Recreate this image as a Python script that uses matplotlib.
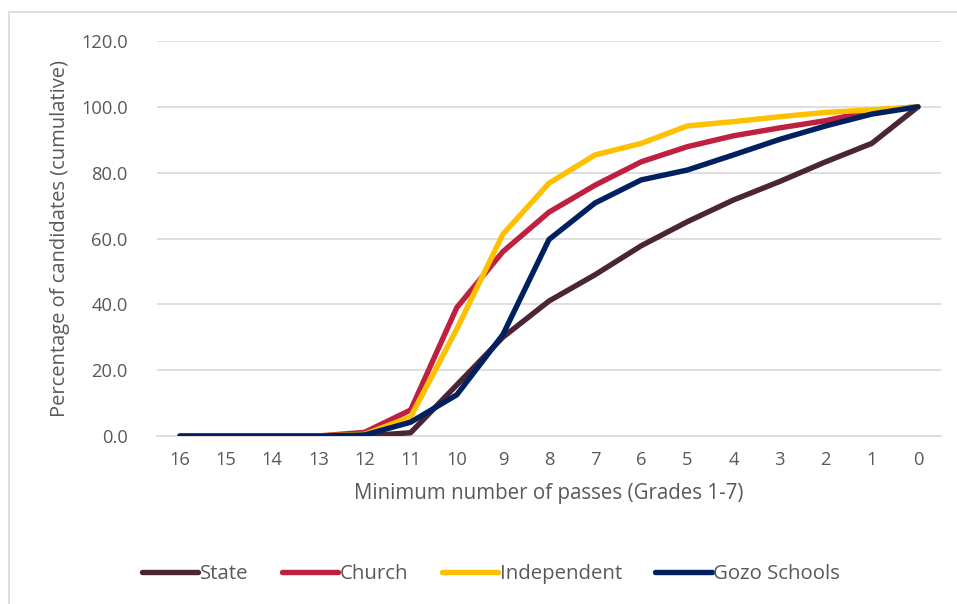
import matplotlib
matplotlib.use('Agg')
from matplotlib import pyplot as plt
from matplotlib.patches import Rectangle

# minimum number of passes, from 16 down to 0
passes = ['16', '15', '14', '13', '12', '11', '10', '9', '8', '7', '6', '5', '4', '3', '2', '1', '0']

state = [0, 0, 0, 0, 0, 1.0, 15.5, 30.0, 41.0, 49.0, 57.8, 65.1, 71.7, 77.3, 83.3, 88.9, 100]
church = [0, 0, 0, 0, 1.1, 7.9, 39.0, 56.0, 68.0, 76.2, 83.3, 87.9, 91.2, 93.6, 95.8, 98.8, 100]
independent = [0, 0, 0, 0, 0.5, 5.8, 32.5, 61.3, 76.8, 85.4, 88.9, 94.2, 95.5, 97.0, 98.3, 99.1, 100]
gozo = [0, 0, 0, 0, 0.3, 4.2, 12.5, 30.8, 59.7, 70.8, 77.8, 80.8, 85.4, 90.1, 94.2, 97.8, 100]

series = [('State', state, '#4B2535'),
          ('Church', church, '#C0203F'),
          ('Independent', independent, '#FFC000'),
          ('Gozo Schools', gozo, '#002060')]

plt.rcParams['font.family'] = ['Open Sans', 'DejaVu Sans']
txt = '#595959'

fig = plt.figure(figsize=(9.57, 6.04), dpi=100)
ax = fig.add_axes([157/957, 1-436/604, (941-157)/957, (436-41)/604])

x = list(range(len(passes)))
for name, vals, col in series:
    ax.plot(x, vals, color=col, lw=3.9, label=name,
            solid_capstyle='round', solid_joinstyle='round', zorder=3)

ax.set_xlim(-0.5, len(passes) - 0.5)
ax.set_ylim(0, 120)
ax.set_yticks(range(0, 121, 20))
ax.set_yticklabels(['%.1f' % v for v in range(0, 121, 20)])
ax.set_xticks(x)
ax.set_xticklabels(passes)
ax.grid(axis='y', color='#D9D9D9', lw=1.2, zorder=0)
for s in ['top', 'right', 'left']:
    ax.spines[s].set_visible(False)
ax.spines['bottom'].set_color('#D9D9D9')
ax.spines['bottom'].set_linewidth(1.2)
ax.tick_params(length=0, labelsize=13.2, colors=txt)
ax.tick_params(axis='y', pad=21)
ax.tick_params(axis='x', pad=11)

ax.set_xlabel('Minimum number of passes (Grades 1-7)', fontsize=14.8, color=txt, labelpad=10)
ax.set_ylabel('Percentage of candidates (cumulative)', fontsize=14.5, color=txt, labelpad=8)

fig.legend(loc='center', bbox_to_anchor=(0.513, 1-574/604), ncol=4, frameon=False,
           fontsize=14.7, handlelength=2.75, handletextpad=0.08, columnspacing=1.65,
           labelcolor=txt)

# chart frame
fig.patches.append(Rectangle((9/957, -0.1), 1.1, 1-12/604+0.1, transform=fig.transFigure,
                             fill=False, edgecolor='#D9D9D9', lw=1.2))

fig.savefig('out.png', dpi=100)
